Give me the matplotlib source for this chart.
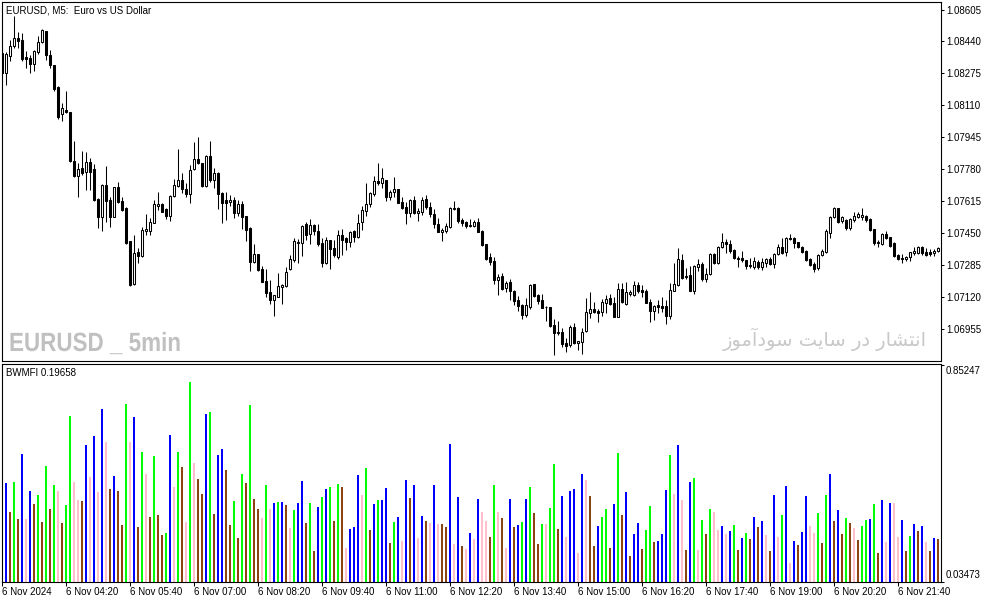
import numpy as np
import matplotlib
matplotlib.use("Agg")
import matplotlib.pyplot as plt
from matplotlib.transforms import blended_transform_factory, Affine2D
from matplotlib.patheffects import AbstractPathEffect

plt.rcParams["font.family"] = ["Liberation Sans", "DejaVu Sans"]

# ---------------- data (EURUSD M5, 6 Nov 2024, 03:00 .. 22:30) ----------------
open_ = [
    1.08378, 1.08278, 1.08364, 1.08418, 1.08456, 1.08447, 1.08361, 1.08352, 1.08321, 1.08387,
    1.08435, 1.08494, 1.08370, 1.08318, 1.08206, 1.08064, 1.08085, 1.08075, 1.07821, 1.07745,
    1.07783, 1.07766, 1.07814, 1.07780, 1.07625, 1.07533, 1.07697, 1.07620, 1.07533, 1.07685,
    1.07614, 1.07580, 1.07408, 1.07185, 1.07349, 1.07332, 1.07461, 1.07461, 1.07502, 1.07590,
    1.07599, 1.07571, 1.07539, 1.07642, 1.07694, 1.07723, 1.07676, 1.07649, 1.07778, 1.07830,
    1.07813, 1.07694, 1.07847, 1.07723, 1.07761, 1.07654, 1.07620, 1.07608, 1.07620, 1.07554,
    1.07599, 1.07537, 1.07473, 1.07301, 1.07340, 1.07263, 1.07201, 1.07142, 1.07102, 1.07120,
    1.07171, 1.07177, 1.07261, 1.07309, 1.07395, 1.07395, 1.07494, 1.07442, 1.07490, 1.07459,
    1.07395, 1.07292, 1.07413, 1.07370, 1.07326, 1.07439, 1.07421, 1.07404, 1.07459, 1.07426,
    1.07508, 1.07564, 1.07597, 1.07651, 1.07720, 1.07709, 1.07723, 1.07637, 1.07663, 1.07675,
    1.07611, 1.07585, 1.07554, 1.07620, 1.07551, 1.07559, 1.07623, 1.07585, 1.07547, 1.07494,
    1.07452, 1.07461, 1.07482, 1.07573, 1.07580, 1.07516, 1.07508, 1.07485, 1.07485, 1.07508,
    1.07461, 1.07392, 1.07326, 1.07304, 1.07206, 1.07227, 1.07163, 1.07196, 1.07149, 1.07102,
    1.07077, 1.07025, 1.07068, 1.07183, 1.07128, 1.07102, 1.07068, 1.07064, 1.06973, 1.06939,
    1.06935, 1.06878, 1.06870, 1.06961, 1.06878, 1.06887, 1.06944, 1.07037, 1.07054, 1.07046,
    1.07039, 1.07089, 1.07111, 1.07085, 1.07016, 1.07158, 1.07082, 1.07133, 1.07128, 1.07180,
    1.07154, 1.07149, 1.07090, 1.07047, 1.07077, 1.07071, 1.07071, 1.07021, 1.07151, 1.07180,
    1.07309, 1.07227, 1.07232, 1.07151, 1.07275, 1.07289, 1.07211, 1.07237, 1.07340, 1.07292,
    1.07375, 1.07404, 1.07392, 1.07361, 1.07318, 1.07318, 1.07309, 1.07283, 1.07275, 1.07301,
    1.07275, 1.07292, 1.07313, 1.07287, 1.07340, 1.07375, 1.07352, 1.07421, 1.07421, 1.07401,
    1.07378, 1.07356, 1.07313, 1.07287, 1.07266, 1.07335, 1.07352, 1.07447, 1.07533, 1.07576,
    1.07511, 1.07516, 1.07473, 1.07516, 1.07533, 1.07533, 1.07537, 1.07520, 1.07468, 1.07404,
    1.07390, 1.07444, 1.07426, 1.07399, 1.07335, 1.07321, 1.07315, 1.07326, 1.07344, 1.07344,
    1.07378, 1.07352, 1.07352, 1.07344, 1.07356,
]
high = [
    1.08395, 1.08387, 1.08447, 1.08571, 1.08487, 1.08482, 1.08392, 1.08370, 1.08395, 1.08470,
    1.08504, 1.08495, 1.08395, 1.08318, 1.08209, 1.08120, 1.08185, 1.08075, 1.07925, 1.07809,
    1.07875, 1.07870, 1.07835, 1.07806, 1.07628, 1.07701, 1.07797, 1.07633, 1.07689, 1.07714,
    1.07637, 1.07585, 1.07408, 1.07439, 1.07370, 1.07478, 1.07545, 1.07525, 1.07620, 1.07663,
    1.07606, 1.07576, 1.07645, 1.07728, 1.07883, 1.07757, 1.07706, 1.07801, 1.07918, 1.07947,
    1.07813, 1.07852, 1.07925, 1.07787, 1.07766, 1.07663, 1.07663, 1.07645, 1.07637, 1.07620,
    1.07614, 1.07537, 1.07482, 1.07392, 1.07340, 1.07278, 1.07261, 1.07206, 1.07128, 1.07240,
    1.07183, 1.07271, 1.07335, 1.07421, 1.07416, 1.07490, 1.07506, 1.07521, 1.07494, 1.07494,
    1.07421, 1.07426, 1.07413, 1.07413, 1.07464, 1.07470, 1.07426, 1.07461, 1.07464, 1.07547,
    1.07589, 1.07706, 1.07663, 1.07744, 1.07813, 1.07783, 1.07723, 1.07671, 1.07737, 1.07675,
    1.07637, 1.07608, 1.07623, 1.07642, 1.07576, 1.07633, 1.07645, 1.07611, 1.07573, 1.07525,
    1.07473, 1.07502, 1.07582, 1.07614, 1.07585, 1.07525, 1.07511, 1.07520, 1.07516, 1.07528,
    1.07464, 1.07392, 1.07347, 1.07326, 1.07237, 1.07244, 1.07202, 1.07211, 1.07154, 1.07125,
    1.07082, 1.07111, 1.07185, 1.07185, 1.07133, 1.07131, 1.07073, 1.07068, 1.07004, 1.06996,
    1.06959, 1.06904, 1.06973, 1.06982, 1.06890, 1.06956, 1.07111, 1.07146, 1.07094, 1.07054,
    1.07108, 1.07128, 1.07133, 1.07120, 1.07192, 1.07189, 1.07194, 1.07154, 1.07201, 1.07194,
    1.07180, 1.07158, 1.07108, 1.07077, 1.07102, 1.07120, 1.07102, 1.07189, 1.07292, 1.07370,
    1.07340, 1.07270, 1.07278, 1.07283, 1.07315, 1.07297, 1.07270, 1.07344, 1.07344, 1.07382,
    1.07451, 1.07416, 1.07413, 1.07366, 1.07330, 1.07358, 1.07309, 1.07318, 1.07323, 1.07309,
    1.07318, 1.07318, 1.07323, 1.07344, 1.07392, 1.07421, 1.07426, 1.07442, 1.07426, 1.07404,
    1.07382, 1.07361, 1.07318, 1.07301, 1.07340, 1.07364, 1.07468, 1.07539, 1.07582, 1.07580,
    1.07539, 1.07521, 1.07525, 1.07556, 1.07556, 1.07576, 1.07540, 1.07525, 1.07470, 1.07413,
    1.07451, 1.07459, 1.07430, 1.07401, 1.07340, 1.07340, 1.07330, 1.07352, 1.07378, 1.07382,
    1.07382, 1.07370, 1.07364, 1.07366, 1.07378,
]
low = [
    1.08266, 1.08214, 1.08340, 1.08404, 1.08404, 1.08339, 1.08301, 1.08278, 1.08287, 1.08373,
    1.08430, 1.08344, 1.08301, 1.08185, 1.08039, 1.08030, 1.08068, 1.07814, 1.07740, 1.07637,
    1.07749, 1.07671, 1.07671, 1.07614, 1.07476, 1.07461, 1.07508, 1.07482, 1.07533, 1.07606,
    1.07563, 1.07390, 1.07177, 1.07180, 1.07292, 1.07326, 1.07439, 1.07439, 1.07499, 1.07568,
    1.07556, 1.07521, 1.07513, 1.07637, 1.07689, 1.07654, 1.07637, 1.07606, 1.07775, 1.07806,
    1.07689, 1.07689, 1.07714, 1.07680, 1.07573, 1.07499, 1.07516, 1.07589, 1.07525, 1.07537,
    1.07468, 1.07409, 1.07254, 1.07292, 1.07255, 1.07194, 1.07120, 1.07082, 1.07021, 1.07116,
    1.07080, 1.07171, 1.07258, 1.07297, 1.07295, 1.07332, 1.07413, 1.07392, 1.07439, 1.07383,
    1.07275, 1.07289, 1.07263, 1.07326, 1.07315, 1.07335, 1.07361, 1.07378, 1.07401, 1.07425,
    1.07464, 1.07537, 1.07585, 1.07642, 1.07697, 1.07683, 1.07616, 1.07620, 1.07637, 1.07602,
    1.07573, 1.07496, 1.07530, 1.07547, 1.07513, 1.07542, 1.07573, 1.07533, 1.07473, 1.07452,
    1.07409, 1.07447, 1.07476, 1.07568, 1.07502, 1.07485, 1.07473, 1.07478, 1.07478, 1.07452,
    1.07383, 1.07312, 1.07283, 1.07185, 1.07128, 1.07154, 1.07142, 1.07102, 1.07077, 1.07047,
    1.07004, 1.07016, 1.07056, 1.07120, 1.07082, 1.07059, 1.06996, 1.06964, 1.06818, 1.06921,
    1.06861, 1.06835, 1.06858, 1.06875, 1.06844, 1.06821, 1.06939, 1.07011, 1.07033, 1.06987,
    1.07021, 1.07033, 1.07077, 1.07014, 1.07014, 1.07085, 1.07077, 1.07125, 1.07125, 1.07137,
    1.07120, 1.07085, 1.06990, 1.06999, 1.07033, 1.07042, 1.06976, 1.07004, 1.07149, 1.07177,
    1.07211, 1.07211, 1.07149, 1.07133, 1.07254, 1.07202, 1.07197, 1.07232, 1.07289, 1.07289,
    1.07370, 1.07344, 1.07344, 1.07315, 1.07271, 1.07301, 1.07263, 1.07266, 1.07263, 1.07263,
    1.07258, 1.07271, 1.07283, 1.07266, 1.07335, 1.07340, 1.07332, 1.07413, 1.07370, 1.07370,
    1.07347, 1.07304, 1.07280, 1.07249, 1.07258, 1.07332, 1.07347, 1.07421, 1.07528, 1.07502,
    1.07502, 1.07464, 1.07464, 1.07508, 1.07525, 1.07516, 1.07508, 1.07461, 1.07387, 1.07378,
    1.07387, 1.07416, 1.07378, 1.07326, 1.07309, 1.07292, 1.07306, 1.07304, 1.07335, 1.07340,
    1.07335, 1.07330, 1.07330, 1.07332, 1.07349,
]
close = [
    1.08275, 1.08373, 1.08418, 1.08456, 1.08444, 1.08349, 1.08351, 1.08321, 1.08390, 1.08438,
    1.08499, 1.08370, 1.08318, 1.08194, 1.08051, 1.08094, 1.08076, 1.07821, 1.07745, 1.07778,
    1.07761, 1.07814, 1.07766, 1.07620, 1.07533, 1.07697, 1.07614, 1.07533, 1.07685, 1.07611,
    1.07568, 1.07399, 1.07180, 1.07344, 1.07332, 1.07464, 1.07470, 1.07504, 1.07597, 1.07599,
    1.07559, 1.07537, 1.07642, 1.07697, 1.07723, 1.07675, 1.07649, 1.07775, 1.07830, 1.07809,
    1.07694, 1.07847, 1.07723, 1.07757, 1.07649, 1.07602, 1.07606, 1.07620, 1.07554, 1.07599,
    1.07530, 1.07464, 1.07301, 1.07340, 1.07258, 1.07197, 1.07140, 1.07102, 1.07128, 1.07175,
    1.07180, 1.07245, 1.07313, 1.07408, 1.07404, 1.07485, 1.07439, 1.07490, 1.07459, 1.07392,
    1.07295, 1.07413, 1.07366, 1.07335, 1.07439, 1.07413, 1.07404, 1.07456, 1.07430, 1.07499,
    1.07568, 1.07599, 1.07658, 1.07718, 1.07709, 1.07732, 1.07637, 1.07659, 1.07676, 1.07606,
    1.07580, 1.07554, 1.07620, 1.07551, 1.07563, 1.07620, 1.07582, 1.07545, 1.07494, 1.07456,
    1.07464, 1.07485, 1.07576, 1.07576, 1.07513, 1.07502, 1.07487, 1.07490, 1.07508, 1.07456,
    1.07387, 1.07315, 1.07301, 1.07206, 1.07223, 1.07159, 1.07189, 1.07149, 1.07099, 1.07073,
    1.07025, 1.07077, 1.07180, 1.07125, 1.07097, 1.07063, 1.07064, 1.06970, 1.06933, 1.06930,
    1.06875, 1.06865, 1.06961, 1.06878, 1.06890, 1.06939, 1.07039, 1.07054, 1.07042, 1.07033,
    1.07090, 1.07108, 1.07082, 1.07016, 1.07158, 1.07090, 1.07142, 1.07142, 1.07180, 1.07149,
    1.07146, 1.07089, 1.07047, 1.07071, 1.07064, 1.07063, 1.07021, 1.07154, 1.07183, 1.07315,
    1.07214, 1.07220, 1.07151, 1.07278, 1.07289, 1.07211, 1.07237, 1.07340, 1.07292, 1.07378,
    1.07401, 1.07392, 1.07356, 1.07318, 1.07315, 1.07309, 1.07278, 1.07278, 1.07304, 1.07275,
    1.07301, 1.07313, 1.07289, 1.07339, 1.07375, 1.07347, 1.07421, 1.07416, 1.07395, 1.07375,
    1.07352, 1.07309, 1.07283, 1.07263, 1.07335, 1.07358, 1.07461, 1.07533, 1.07576, 1.07508,
    1.07533, 1.07473, 1.07520, 1.07537, 1.07545, 1.07542, 1.07516, 1.07464, 1.07395, 1.07395,
    1.07444, 1.07421, 1.07383, 1.07330, 1.07313, 1.07315, 1.07326, 1.07349, 1.07356, 1.07378,
    1.07344, 1.07335, 1.07340, 1.07356, 1.07370,
]

bwmfi = [
    0.250, 0.408, 0.298, 0.412, 0.273, 0.517, 0.273, 0.378, 0.329, 0.363,
    0.261, 0.472, 0.310, 0.400, 0.378, 0.257, 0.325, 0.660, 0.412, 0.344,
    0.340, 0.551, 0.430, 0.585, 0.374, 0.687, 0.562, 0.383, 0.434, 0.378,
    0.250, 0.705, 0.562, 0.656, 0.242, 0.525, 0.442, 0.280, 0.510, 0.287,
    0.212, 0.219, 0.589, 0.393, 0.525, 0.468, 0.261, 0.788, 0.483, 0.423,
    0.366, 0.668, 0.675, 0.291, 0.513, 0.536, 0.457, 0.250, 0.340, 0.201,
    0.442, 0.408, 0.702, 0.348, 0.310, 0.276, 0.400, 0.310, 0.332, 0.336,
    0.336, 0.325, 0.238, 0.306, 0.332, 0.415, 0.257, 0.332, 0.152, 0.317,
    0.355, 0.385, 0.393, 0.265, 0.404, 0.393, 0.163, 0.234, 0.242, 0.438,
    0.363, 0.464, 0.231, 0.329, 0.344, 0.344, 0.389, 0.182, 0.261, 0.280,
    0.189, 0.419, 0.351, 0.400, 0.201, 0.283, 0.265, 0.257, 0.400, 0.253,
    0.253, 0.242, 0.555, 0.178, 0.355, 0.170, 0.159, 0.219, 0.197, 0.348,
    0.298, 0.265, 0.204, 0.400, 0.298, 0.276, 0.163, 0.348, 0.242, 0.250,
    0.261, 0.348, 0.393, 0.295, 0.178, 0.253, 0.253, 0.314, 0.479, 0.234,
    0.359, 0.204, 0.378, 0.385, 0.144, 0.442, 0.419, 0.359, 0.170, 0.246,
    0.280, 0.310, 0.163, 0.329, 0.521, 0.287, 0.374, 0.133, 0.216, 0.257,
    0.159, 0.231, 0.321, 0.185, 0.189, 0.216, 0.381, 0.513, 0.366, 0.551,
    0.344, 0.155, 0.412, 0.427, 0.155, 0.268, 0.216, 0.310, 0.298, 0.231,
    0.246, 0.216, 0.227, 0.250, 0.155, 0.201, 0.219, 0.197, 0.280, 0.242,
    0.265, 0.212, 0.152, 0.363, 0.204, 0.287, 0.396, 0.106, 0.189, 0.174,
    0.223, 0.359, 0.246, 0.219, 0.295, 0.182, 0.363, 0.442, 0.265, 0.306,
    0.216, 0.276, 0.257, 0.238, 0.193, 0.246, 0.268, 0.272, 0.329, 0.144,
    0.344, 0.185, 0.332, 0.332, 0.204, 0.268, 0.152, 0.208, 0.253, 0.227,
    0.246, 0.185, 0.152, 0.201, 0.19658,
]
# G = MFI up / volume up, S = both down, B = MFI up / volume down, P = MFI down / volume up
bwmfi_state = (
    "SBSGSBPBSG" "SGSGPSGGPP" "SBPBPBPSBS" "SGPBSGPSGS" "SGBPGSPGPS"
    "SBGSBBSSGS" "GSGSSPGPBG" "BSPGBBSGSB" "GBGSGSPBBB" "PGSBGBBSGB"
    "PBSBPBSPBP" "SSBPBSPBPB" "PPSGPSPBSB" "GBGSSGPGGS" "BPBBPBPSSB"
    "GGSBGSBSBB" "SGGSBBBGPB" "PSBGPGSGPP" "BPBGSBGSBS" "BPSBPGBPBS"
    "BBPPGSGBSB" "SGSPSGGBGS" "BPBPPBSGBS" "BPSBS"
)

price_levels = [1.08605, 1.08440, 1.08275, 1.08110, 1.07945, 1.07780,
                1.07615, 1.07450, 1.07285, 1.07120, 1.06955]
bw_levels = [0.03473, 0.85247]
time_labels = ["6 Nov 2024", "6 Nov 04:20", "6 Nov 05:40", "6 Nov 07:00",
               "6 Nov 08:20", "6 Nov 09:40", "6 Nov 11:00", "6 Nov 12:20",
               "6 Nov 13:40", "6 Nov 15:00", "6 Nov 16:20", "6 Nov 17:40",
               "6 Nov 19:00", "6 Nov 20:20", "6 Nov 21:40"]
bars_per_label = 16

# Persian watermark (logical order), shaped below for display
watermark_fa = "\u0627\u0646\u062A\u0634\u0627\u0631 \u062F\u0631 \u0633\u0627\u06CC\u062A \u0633\u0648\u062F\u0622\u0645\u0648\u0632"

# ---------------- minimal Arabic-script shaping ----------------
FORMS = {
    "\u0627": ("\uFE8D", "\uFE8E", None, None),
    "\u0622": ("\uFE81", "\uFE82", None, None),
    "\u062F": ("\uFEA9", "\uFEAA", None, None),
    "\u0631": ("\uFEAD", "\uFEAE", None, None),
    "\u0632": ("\uFEAF", "\uFEB0", None, None),
    "\u0648": ("\uFEED", "\uFEEE", None, None),
    "\u0646": ("\uFEE5", "\uFEE6", "\uFEE7", "\uFEE8"),
    "\u062A": ("\uFE95", "\uFE96", "\uFE97", "\uFE98"),
    "\u0634": ("\uFEB5", "\uFEB6", "\uFEB7", "\uFEB8"),
    "\u0633": ("\uFEB1", "\uFEB2", "\uFEB3", "\uFEB4"),
    "\u06CC": ("\uFBFC", "\uFBFD", "\uFBFE", "\uFBFF"),
    "\u0645": ("\uFEE1", "\uFEE2", "\uFEE3", "\uFEE4"),
}


def shape_rtl(text):
    out = []
    for k, ch in enumerate(text):
        if ch not in FORMS:
            out.append(ch)
            continue
        prev = text[k - 1] if k > 0 else ""
        nxt = text[k + 1] if k + 1 < len(text) else ""
        join_prev = prev in FORMS and FORMS[prev][2] is not None
        join_next = FORMS[ch][2] is not None and nxt in FORMS
        iso, fin, ini, med = FORMS[ch]
        if join_prev and join_next:
            out.append(med)
        elif join_prev:
            out.append(fin)
        elif join_next:
            out.append(ini)
        else:
            out.append(iso)
    return "".join(reversed(out))


class HorizontalSqueeze(AbstractPathEffect):
    """Draw text glyphs narrowed horizontally (condensed look)."""

    def __init__(self, sx):
        super().__init__()
        self.sx = sx

    def draw_path(self, renderer, gc, tpath, affine, rgbFace=None):
        renderer.draw_path(gc, tpath, Affine2D().scale(self.sx, 1.0) + affine,
                           rgbFace)


# ---------------- figure ----------------
W, H = 994, 603
fig = plt.figure(figsize=(W / 100, H / 100), dpi=100)
fig.patch.set_facecolor("white")


def fx(px):
    return px / W


def fy(py):
    return 1 - py / H


ax1 = fig.add_axes([fx(2), fy(361), (941 - 2) / W, (361 - 2) / H])
ax2 = fig.add_axes([fx(2), fy(582), (941 - 2) / W, (582 - 363.5) / H])

n = len(close)
x = np.arange(n)
o, hi, lo, c = (np.array(a) for a in (open_, high, low, close))
bull = c >= o

ax1.vlines(x, lo, hi, color="black", linewidth=0.75, zorder=1)
ax1.bar(x, np.abs(c - o), bottom=np.minimum(o, c), width=0.5,
        color=["white" if b else "black" for b in bull],
        edgecolor="black", linewidth=0.75, zorder=2)

colmap = {"G": "#00FF00", "S": "#8B4513", "B": "#0000FF", "P": "#FFC0CB"}
ax2.bar(x, bwmfi, width=0.5, color=[colmap[s] for s in bwmfi_state],
        linewidth=0, zorder=2)

x0 = 0.125
x1 = x0 + 939 / 4.0
for ax in (ax1, ax2):
    ax.set_xlim(x0, x1)
    for s in ax.spines.values():
        s.set_linewidth(0.8)
        s.set_color("black")
    ax.set_facecolor("white")

ax1.set_ylim(1.06787, 1.08644)
ax2.set_ylim(0.03473, 0.8570)

# right price axis
ax1.yaxis.tick_right()
ax1.set_yticks(price_levels, [f"{p:.5f}" for p in price_levels])
ax1.tick_params(axis="y", direction="out", length=2.5, width=0.75, pad=1.2,
                labelsize=7, colors="black")
ax1.tick_params(axis="x", length=0, labelbottom=False)

ax2.yaxis.tick_right()
ax2.set_yticks(bw_levels)
ax2.tick_params(axis="y", direction="out", length=2.5, width=0.75,
                labelright=False)
trans = blended_transform_factory(ax2.transAxes, ax2.transData)
ax2.annotate(f"{bw_levels[1]:.5f}", xy=(1, bw_levels[1]), xycoords=trans,
             xytext=(3.4, -0.6), textcoords="offset points",
             ha="left", va="top", fontsize=7)
ax2.annotate(f"{bw_levels[0]:.5f}", xy=(1, bw_levels[0]), xycoords=trans,
             xytext=(3.4, 1.6), textcoords="offset points",
             ha="left", va="bottom", fontsize=7)

# time axis
tick_pos = np.arange(len(time_labels)) * bars_per_label
ax2.set_xticks(tick_pos, time_labels)
ax2.tick_params(axis="x", direction="out", length=2.8, width=0.75, pad=1.0,
                labelsize=7, colors="black")
for lab in ax2.get_xticklabels():
    lab.set_ha("left")

# texts
fig.text(fx(6.5), fy(10.2), "EURUSD, M5:  Euro vs US Dollar", fontsize=7,
         ha="left", va="center", color="black")
fig.text(fx(5.5), fy(372.5), f"BWMFI {bwmfi[-1]:.5f}", fontsize=7,
         ha="left", va="center", color="black")
fig.text(fx(9), fy(351), "EURUSD _ 5min", fontsize=19, fontweight="bold",
         family=["Liberation Sans", "DejaVu Sans"],
         ha="left", va="baseline", color="#c0c0c0",
         path_effects=[HorizontalSqueeze(0.85)])
fig.text(fx(927), fy(346), shape_rtl(watermark_fa), fontsize=14,
         family=["DejaVu Sans"], ha="right", va="baseline", color="#c8c8c8")

fig.savefig("out.png", dpi=100, facecolor="white")
